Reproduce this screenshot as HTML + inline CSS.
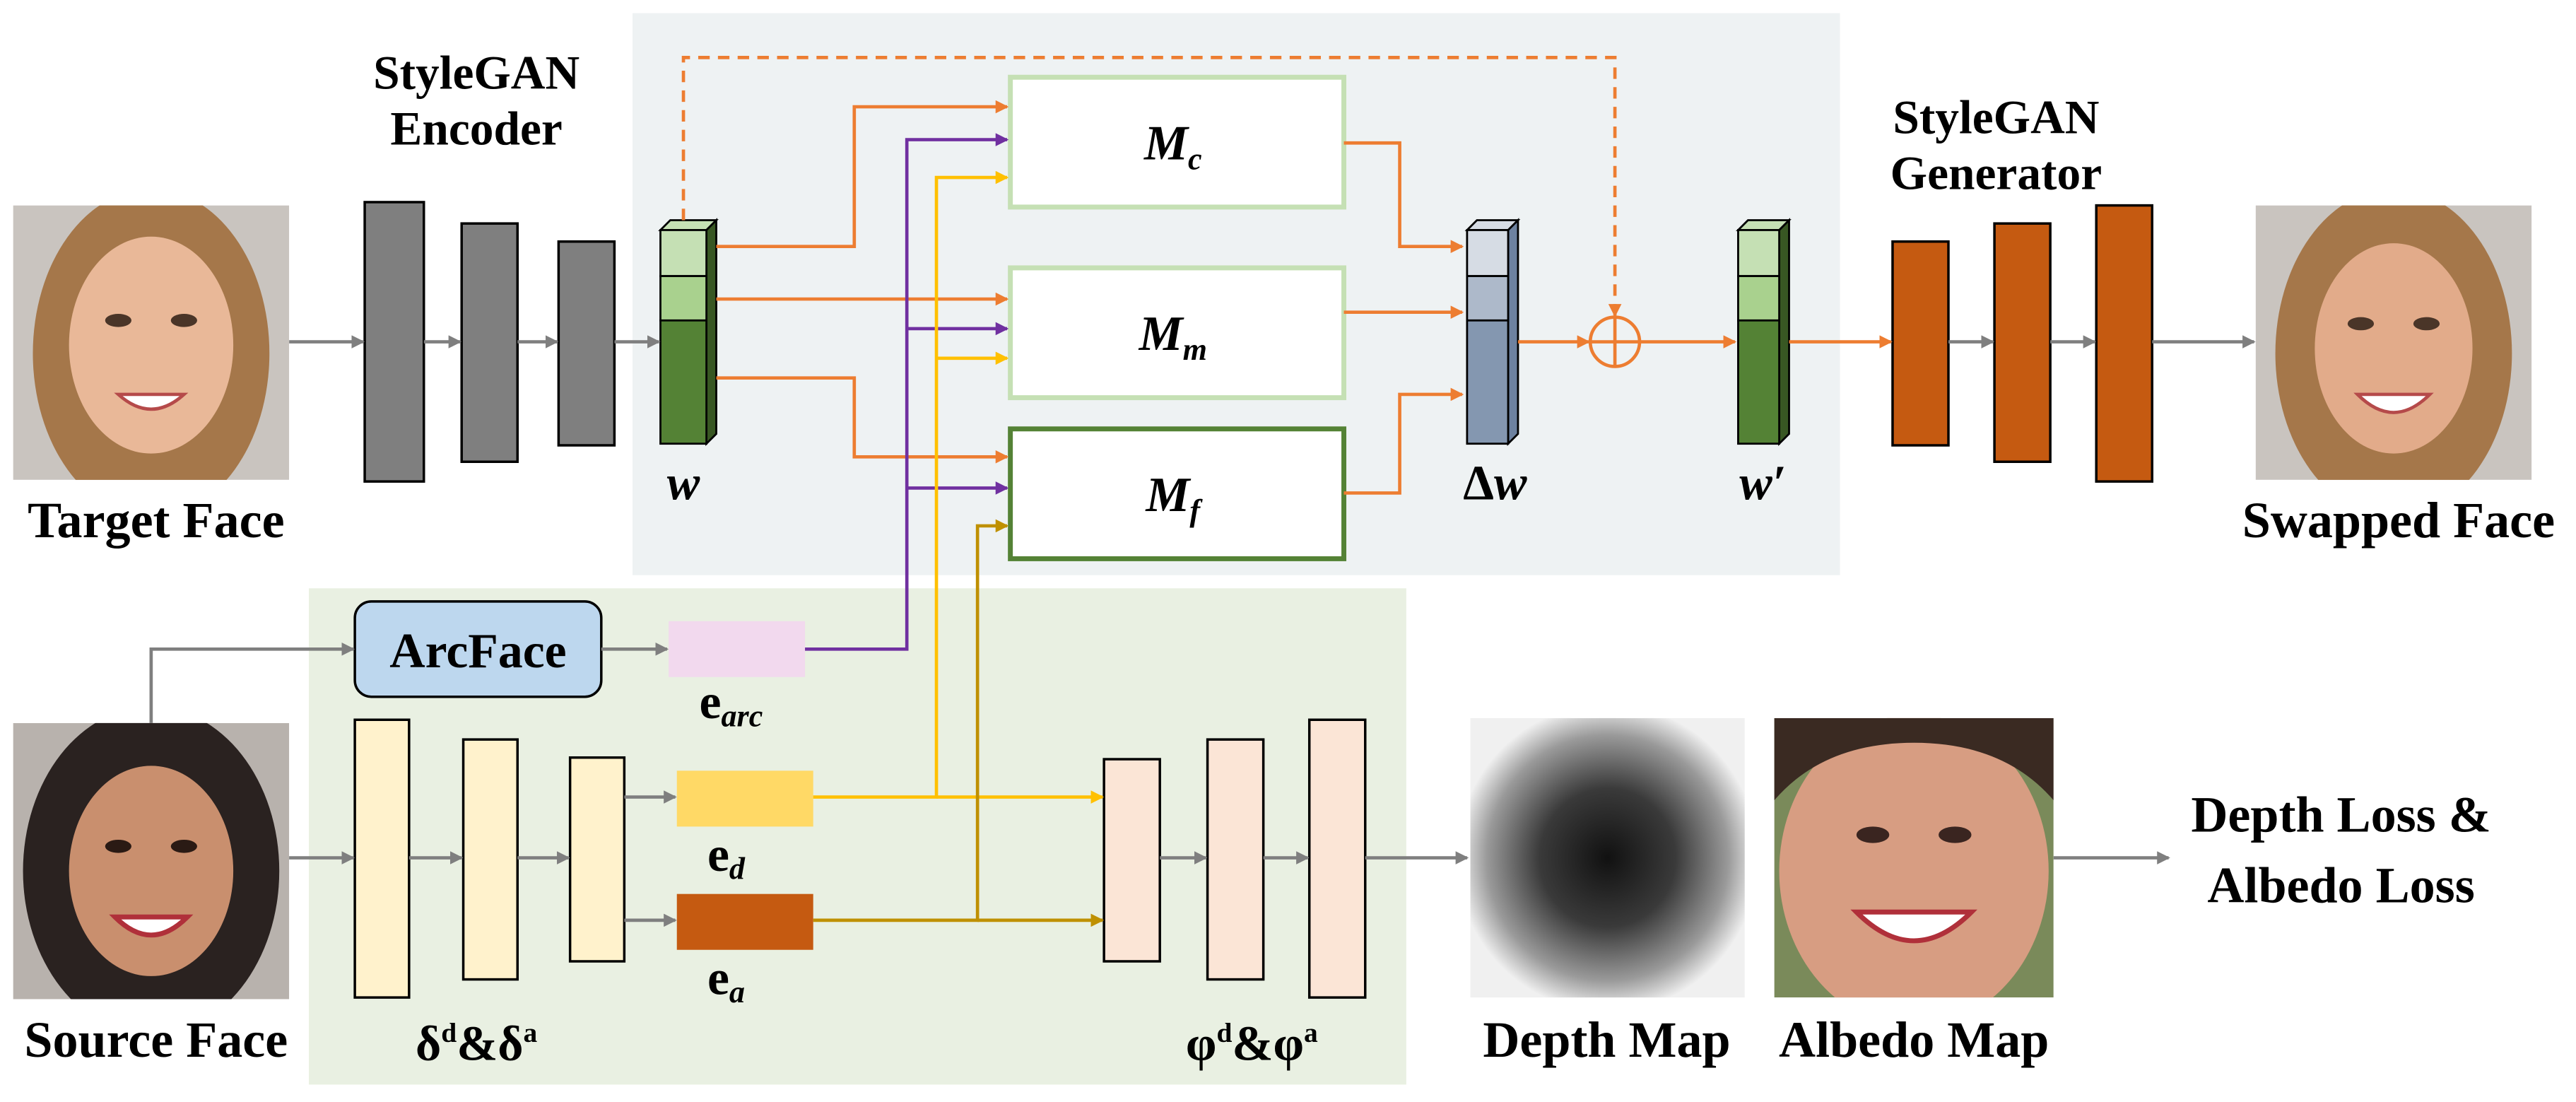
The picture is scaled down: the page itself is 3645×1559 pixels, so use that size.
<!DOCTYPE html>
<html><head><meta charset="utf-8"><style>
html,body{margin:0;padding:0;background:#fff;}
svg{display:block;}
text{font-family:"Liberation Serif",serif;font-weight:bold;fill:#000;}
</style></head><body>
<svg width="3645" height="1559" viewBox="0 0 1568 670.6" preserveAspectRatio="none" xmlns="http://www.w3.org/2000/svg">
<defs>
<marker id="ag" markerWidth="8" markerHeight="8" refX="7" refY="4" orient="auto" markerUnits="userSpaceOnUse"><path d="M0,0 L8,4 L0,8 z" fill="#7f7f7f"/></marker>
<marker id="ao" markerWidth="8" markerHeight="8" refX="7" refY="4" orient="auto" markerUnits="userSpaceOnUse"><path d="M0,0 L8,4 L0,8 z" fill="#ed7d31"/></marker>
<marker id="ap" markerWidth="8" markerHeight="8" refX="7" refY="4" orient="auto" markerUnits="userSpaceOnUse"><path d="M0,0 L8,4 L0,8 z" fill="#7030a0"/></marker>
<marker id="ay" markerWidth="8" markerHeight="8" refX="7" refY="4" orient="auto" markerUnits="userSpaceOnUse"><path d="M0,0 L8,4 L0,8 z" fill="#ffc000"/></marker>
<marker id="ad" markerWidth="8" markerHeight="8" refX="7" refY="4" orient="auto" markerUnits="userSpaceOnUse"><path d="M0,0 L8,4 L0,8 z" fill="#bf9000"/></marker>
<radialGradient id="dg" cx="50%" cy="50%" r="55%"><stop offset="0" stop-color="#111"/><stop offset="0.45" stop-color="#3a3a3a"/><stop offset="0.8" stop-color="#9a9a9a"/><stop offset="1" stop-color="#f0f0f0"/></radialGradient>
<clipPath id="c1"><rect x="8" y="125" width="168" height="167"/></clipPath>
<clipPath id="c2"><rect x="1373" y="125" width="168" height="167"/></clipPath>
<clipPath id="c3"><rect x="8" y="440" width="168" height="168"/></clipPath>
<clipPath id="c4"><rect x="1080" y="437" width="170" height="170"/></clipPath>
</defs>
<rect x="385" y="8" width="735" height="342" fill="#eef2f3"/>
<rect x="188" y="358" width="668" height="302" fill="#e9f0e2"/>

<g clip-path="url(#c1)">
<rect x="8" y="125" width="168" height="167" fill="#c9c4bf"/>
<ellipse cx="92" cy="215" rx="72" ry="100" fill="#a5774a"/>
<ellipse cx="92" cy="210" rx="50" ry="66" fill="#e9b898"/>
<ellipse cx="72" cy="195" rx="8" ry="4" fill="#4a3528"/><ellipse cx="112" cy="195" rx="8" ry="4" fill="#4a3528"/>
<path d="M72,240 Q92,258 112,240 Z" fill="#fff" stroke="#b54a4a" stroke-width="2"/>
</g>
<g clip-path="url(#c2)">
<rect x="1373" y="125" width="168" height="167" fill="#c9c4bf"/>
<ellipse cx="1457" cy="215" rx="72" ry="100" fill="#a5774a"/>
<ellipse cx="1457" cy="212" rx="48" ry="64" fill="#e2ab8a"/>
<ellipse cx="1437" cy="197" rx="8" ry="4" fill="#4a3528"/><ellipse cx="1477" cy="197" rx="8" ry="4" fill="#4a3528"/>
<path d="M1435,240 Q1457,262 1479,240 Z" fill="#fff" stroke="#b54a4a" stroke-width="2"/>
</g>
<g clip-path="url(#c3)">
<rect x="8" y="440" width="168" height="168" fill="#b8b2ad"/>
<ellipse cx="92" cy="530" rx="78" ry="100" fill="#2a2220"/>
<ellipse cx="92" cy="530" rx="50" ry="64" fill="#c98f6e"/>
<ellipse cx="72" cy="515" rx="8" ry="4" fill="#2a1a14"/><ellipse cx="112" cy="515" rx="8" ry="4" fill="#2a1a14"/>
<path d="M70,558 Q92,580 114,558 Z" fill="#fff" stroke="#b0303a" stroke-width="3"/>
</g>
<rect x="895" y="437" width="167" height="170" fill="url(#dg)"/>
<g clip-path="url(#c4)">
<rect x="1080" y="437" width="170" height="170" fill="#7a8a5a"/>
<ellipse cx="1165" cy="530" rx="82" ry="95" fill="#d79d82"/>
<path d="M1080,437 h170 v50 q-30,-35 -85,-35 q-55,0 -85,35z" fill="#3a2a22"/>
<ellipse cx="1140" cy="508" rx="10" ry="5" fill="#3a2520"/><ellipse cx="1190" cy="508" rx="10" ry="5" fill="#3a2520"/>
<path d="M1130,555 Q1165,590 1200,555 Z" fill="#fff" stroke="#b0303a" stroke-width="3"/>
</g>

<g fill="#7f7f7f" stroke="#000" stroke-width="1.5">
<rect x="222" y="123" width="36" height="170"/><rect x="281" y="136" width="34" height="145"/><rect x="340" y="147" width="34" height="124"/>
</g>
<g fill="#c55a11" stroke="#000" stroke-width="1.5">
<rect x="1152" y="147" width="34" height="124"/><rect x="1214" y="136" width="34" height="145"/><rect x="1276" y="125" width="34" height="168"/>
</g>
<g fill="#fff2cc" stroke="#000" stroke-width="1.5">
<rect x="216" y="438" width="33" height="169"/><rect x="282" y="450" width="33" height="146"/><rect x="347" y="461" width="33" height="124"/>
</g>
<g fill="#fbe5d6" stroke="#000" stroke-width="1.5">
<rect x="672" y="462" width="34" height="123"/><rect x="735" y="450" width="34" height="146"/><rect x="797" y="438" width="34" height="169"/>
</g>

<g stroke="#000" stroke-width="1.2">
<polygon points="402,140 408,134 436,134 430,140" fill="#c5e0b4"/>
<polygon points="430,140 436,134 436,264 430,270" fill="#385723"/>
<rect x="402" y="140" width="28" height="28" fill="#c5e0b4"/><rect x="402" y="168" width="28" height="27" fill="#a9d18e"/><rect x="402" y="195" width="28" height="75" fill="#548235"/>
<polygon points="893,140 899,134 924,134 918,140" fill="#d6dce4"/>
<polygon points="918,140 924,134 924,264 918,270" fill="#6d82a0"/>
<rect x="893" y="140" width="25" height="28" fill="#d6dce4"/><rect x="893" y="168" width="25" height="27" fill="#adb9ca"/><rect x="893" y="195" width="25" height="75" fill="#8497b0"/>
<polygon points="1058,140 1064,134 1089,134 1083,140" fill="#c5e0b4"/>
<polygon points="1083,140 1089,134 1089,264 1083,270" fill="#385723"/>
<rect x="1058" y="140" width="25" height="28" fill="#c5e0b4"/><rect x="1058" y="168" width="25" height="27" fill="#a9d18e"/><rect x="1058" y="195" width="25" height="75" fill="#548235"/>
</g>

<rect x="615" y="47" width="203" height="79" fill="#fff" stroke="#c5e0b4" stroke-width="3"/>
<rect x="615" y="163" width="203" height="79" fill="#fff" stroke="#c5e0b4" stroke-width="3"/>
<rect x="615" y="261" width="203" height="79" fill="#fff" stroke="#548235" stroke-width="3"/>

<rect x="216" y="366" width="150" height="58" rx="10" fill="#bdd7ee" stroke="#000" stroke-width="1.5"/>
<rect x="407" y="378" width="83" height="34" fill="#f2d9ee"/>
<rect x="412" y="469" width="83" height="34" fill="#ffd966"/>
<rect x="412" y="544" width="83" height="34" fill="#c55a11"/>

<g stroke="#7f7f7f" stroke-width="2" fill="none" marker-end="url(#ag)">
<line x1="176" y1="208" x2="221" y2="208"/><line x1="258" y1="208" x2="280" y2="208"/><line x1="315" y1="208" x2="339" y2="208"/><line x1="374" y1="208" x2="401" y2="208"/>
<line x1="1186" y1="208" x2="1213" y2="208"/><line x1="1248" y1="208" x2="1275" y2="208"/><line x1="1310" y1="208" x2="1372" y2="208"/>
<polyline points="92,440 92,395 215,395"/><line x1="366" y1="395" x2="406" y2="395"/>
<line x1="176" y1="522" x2="215" y2="522"/><line x1="249" y1="522" x2="281" y2="522"/><line x1="315" y1="522" x2="346" y2="522"/>
<polyline points="380,485 411,485"/><polyline points="380,560 411,560"/>
<line x1="706" y1="522" x2="734" y2="522"/><line x1="769" y1="522" x2="796" y2="522"/><line x1="831" y1="522" x2="893" y2="522"/>
<line x1="1250" y1="522" x2="1320" y2="522"/>
</g>

<g stroke="#ed7d31" stroke-width="2" fill="none" marker-end="url(#ao)">
<polyline points="416,134 416,35 983,35 983,192" stroke-dasharray="7,5"/>
<polyline points="436,150 520,150 520,65 613,65"/>
<line x1="436" y1="182" x2="613" y2="182"/>
<polyline points="436,230 520,230 520,278 613,278"/>
<polyline points="818,87 852,87 852,150 890,150"/>
<line x1="818" y1="190" x2="890" y2="190"/>
<polyline points="818,300 852,300 852,240 890,240"/>
<line x1="924" y1="208" x2="967" y2="208"/>
<line x1="998" y1="208" x2="1056" y2="208"/>
<line x1="1089" y1="208" x2="1151" y2="208"/>
</g>
<circle cx="983" cy="208" r="15" fill="none" stroke="#ed7d31" stroke-width="2"/>
<line x1="968" y1="208" x2="998" y2="208" stroke="#ed7d31" stroke-width="2"/>
<line x1="983" y1="193" x2="983" y2="223" stroke="#ed7d31" stroke-width="2"/>

<g stroke="#7030a0" stroke-width="2" fill="none" marker-end="url(#ap)">
<polyline points="490,395 552,395 552,85 613,85"/>
<polyline points="552,200 613,200"/>
<polyline points="552,297 613,297"/>
</g>
<g stroke="#ffc000" stroke-width="2" fill="none" marker-end="url(#ay)">
<polyline points="495,485 570,485 570,108 613,108"/>
<polyline points="570,218 613,218"/>
<polyline points="570,485 671,485"/>
</g>
<g stroke="#bf9000" stroke-width="2" fill="none" marker-end="url(#ad)">
<polyline points="495,560 595,560 595,320 613,320"/>
<polyline points="595,560 671,560"/>
</g>

<g font-size="29" text-anchor="middle">
<text x="290" y="54">StyleGAN</text><text x="290" y="88">Encoder</text>
<text x="1215" y="81">StyleGAN</text><text x="1215" y="115">Generator</text>
<text x="95" y="327" font-size="31">Target Face</text>
<text x="1460" y="327" font-size="31">Swapped Face</text>
<text x="95" y="643" font-size="31">Source Face</text>
<text x="978" y="643" font-size="31">Depth Map</text>
<text x="1165" y="643" font-size="31">Albedo Map</text>
<text x="1425" y="506" font-size="31">Depth Loss &amp;</text>
<text x="1425" y="549" font-size="31">Albedo Loss</text>
<text x="291" y="406" font-size="30">ArcFace</text>
<text x="290" y="645" font-size="30">δ<tspan font-size="17" dy="-11">d</tspan><tspan dy="11">&amp;δ</tspan><tspan font-size="17" dy="-11">a</tspan></text>
<text x="762" y="645" font-size="30">φ<tspan font-size="17" dy="-11">d</tspan><tspan dy="11">&amp;φ</tspan><tspan font-size="17" dy="-11">a</tspan></text>
<text x="445" y="437" font-size="30">e<tspan font-style="italic" font-size="19" dy="5">arc</tspan></text>
<text x="442" y="530" font-size="30">e<tspan font-style="italic" font-size="19" dy="5">d</tspan></text>
<text x="442" y="605" font-size="30">e<tspan font-style="italic" font-size="19" dy="5">a</tspan></text>
</g>
<g font-size="30" font-style="italic" text-anchor="middle">
<text x="416" y="304">w</text>
<text x="910" y="304"><tspan font-style="normal">Δ</tspan>w</text>
<text x="1073" y="304">w′</text>
<text x="714" y="97">M<tspan font-size="19" dy="6">c</tspan></text>
<text x="714" y="213">M<tspan font-size="19" dy="6">m</tspan></text>
<text x="714" y="311">M<tspan font-size="19" dy="6">f</tspan></text>
</g>
</svg>
</body></html>
